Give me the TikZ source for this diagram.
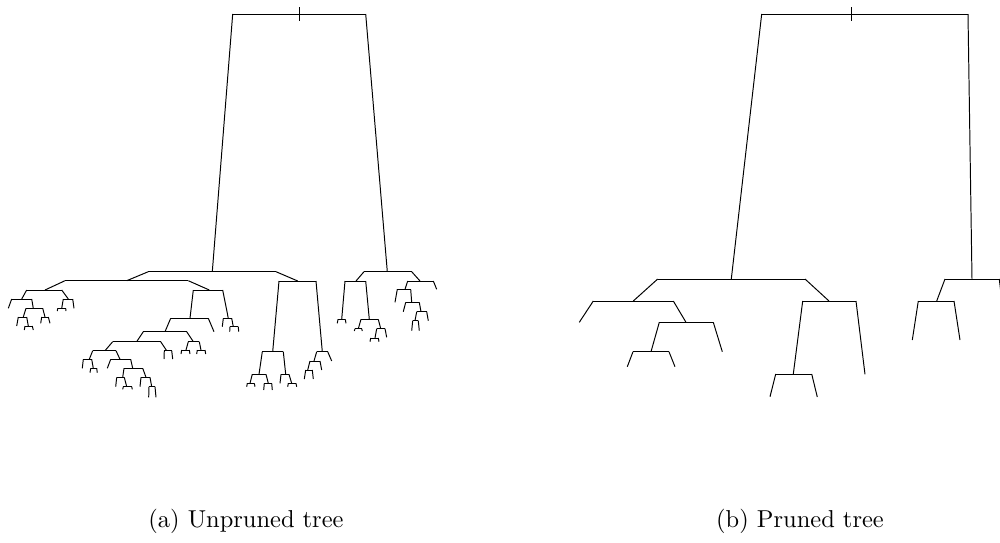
\documentclass[tikz,border=0pt]{standalone}
\tikzset{tr/.style={line width=0.4pt,draw=black}}
\newcommand\TrIn[5]{\coordinate (#1) at (#2,#3);\coordinate (#1-l) at (#4,#3);\coordinate (#1-r) at (#5,#3);\draw[tr] (#1-l) -- (#1-r);}
\newcommand\TrE[3]{\draw[tr] (#1-l) -- (#2);\draw[tr] (#1-r) -- (#3);}
\newcommand\TrCh[8]{\TrIn{#1}{#2}{#3}{#4}{#5}\coordinate (#1-a) at (#7,#6);\coordinate (#1-b) at (#8,#6);\TrE{#1}{#1-a}{#1-b}}
\begin{document}
\begin{tikzpicture}[x=0.409pt,y=-0.409pt]
\useasboundingbox (0,0) rectangle (1000,542);
\clip (0,0) rectangle (1000,542);
% ---------------- (a) unpruned tree ----------------
\TrIn{R}{299.3}{14}{232.7}{365.7}
\coordinate (R-t1) at (299.3,7.3);\coordinate (R-t2) at (299.3,20.7);
\draw[tr] (R-t1) -- (R-t2);
\TrIn{N1}{212.3}{271.7}{148.3}{276}
\TrIn{N2}{387.3}{271.7}{364}{411.7}
\TrE{R}{N1}{N2}
\TrIn{A}{126.7}{280.7}{65}{188.3}
\TrIn{B}{297.7}{281}{279}{316}
\TrE{N1}{A}{B}
\TrIn{A1}{45}{290}{26.7}{61.7}
\TrIn{A2}{209.3}{290}{193.3}{222.7}
\TrE{A}{A1}{A2}
\TrIn{A11}{21.7}{299}{11.7}{31.7}
\TrIn{A12}{68.3}{299}{63.3}{72.7}
\TrE{A1}{A11}{A12}
\coordinate (A111) at (8.3,308.3);
\TrIn{A112}{33.3}{308.3}{26}{42.7}
\TrE{A11}{A111}{A112}
\TrIn{A1121}{23.3}{317}{18.3}{26.7}
\TrCh{A1122}{45}{317}{41.7}{48.3}{323.3}{40.7}{50}
\TrE{A112}{A1121}{A1122}
\coordinate (A11211) at (16.7,326);
\TrCh{A11212}{28.3}{326}{25}{32.3}{330}{24.3}{33.3}
\TrE{A1121}{A11211}{A11212}
\TrCh{A121}{61.7}{308.3}{57.7}{65.7}{311}{57.3}{66}
\coordinate (A122) at (74,308.3);
\TrE{A12}{A121}{A122}
\TrIn{A21}{190}{318.3}{170.7}{208.3}
\TrIn{A22}{228.3}{318.3}{223.3}{231.7}
\TrE{A2}{A21}{A22}
\TrIn{A211}{165}{331.7}{143.3}{186.7}
\coordinate (A212) at (214,331.7);
\TrE{A21}{A211}{A212}
\TrIn{A2111}{136.7}{341.7}{112.7}{160.7}
\TrIn{A2112}{193.3}{341.7}{188.3}{199.3}
\TrE{A211}{A2111}{A2112}
\TrIn{A21111}{105}{350.7}{92.7}{116}
\TrCh{A21112}{166.7}{350.7}{164.3}{171.7}{359}{164}{172.7}
\TrE{A2111}{A21111}{A21112}
\TrIn{A211111}{89.3}{359.3}{83.3}{91.7}
\TrIn{A211112}{120}{359.3}{110.7}{130.7}
\TrE{A21111}{A211111}{A211112}
\coordinate (A2111111) at (82.3,368.3);
\TrCh{A2111112}{93.3}{368.3}{90.7}{96.7}{372.7}{90}{97.3}
\TrE{A211111}{A2111111}{A2111112}
\coordinate (A2111121) at (107.3,368.3);
\TrIn{A2111122}{132.7}{368.3}{124}{142.7}
\TrE{A211112}{A2111121}{A2111122}
\TrIn{C1}{122.7}{377.3}{116.7}{124.3}
\TrIn{C2}{146}{377.3}{141}{150}
\TrE{A2111122}{C1}{C2}
\coordinate (C11) at (115.7,386.7);
\TrCh{C12}{126.7}{386.7}{123.3}{131.7}{389.3}{122.7}{132.3}
\TrE{C1}{C11}{C12}
\coordinate (C21) at (140,386.7);
\TrCh{C22}{151.7}{386.7}{149}{155}{397.3}{148.7}{156}
\TrE{C2}{C21}{C22}
\TrCh{A21121}{186}{350}{181.7}{189.3}{354}{181}{190}
\TrCh{A21122}{201}{350}{197.3}{205}{354}{196.7}{205.7}
\TrE{A2112}{A21121}{A21122}
\coordinate (A221) at (222.3,326.7);
\TrCh{A222}{233.3}{326.7}{230}{238.3}{331.7}{229.7}{238.7}
\TrE{A22}{A221}{A222}
\TrIn{B1}{272.7}{351.7}{262.3}{283.3}
\TrIn{B2}{322.3}{351.7}{316.7}{327.7}
\TrE{B}{B1}{B2}
\TrIn{B11}{259}{374.3}{252.3}{266}
\TrIn{B12}{285.7}{374.3}{281}{289}
\TrE{B1}{B11}{B12}
\TrCh{B111}{250}{383.3}{247.3}{254.3}{386.7}{246.7}{255}
\TrCh{B112}{268.3}{383.3}{264.3}{271.7}{390}{263.7}{272.3}
\TrE{B11}{B111}{B112}
\coordinate (B121) at (280,383.3);
\TrCh{B122}{291.7}{383.3}{288.3}{296}{386.7}{287.7}{296.7}
\TrE{B12}{B121}{B122}
\TrIn{B21}{314}{361}{310}{320}
\coordinate (B22) at (331.7,361);
\TrE{B2}{B21}{B22}
\TrCh{B211}{307.7}{370}{305.7}{312.3}{379}{304.3}{313.3}
\coordinate (B212) at (321.7,370);
\TrE{B21}{B211}{B212}
\TrIn{D1}{356}{281}{345}{365.7}
\TrIn{D2}{420}{281}{407.7}{433.3}
\TrE{N2}{D1}{D2}
\TrCh{D11}{341.7}{319.3}{338}{345.3}{323.3}{337.3}{346}
\TrIn{D12}{369.3}{319.3}{361}{378.3}
\TrE{D1}{D11}{D12}
\TrCh{D121}{358.3}{328.7}{355}{361.7}{331}{354.3}{362.3}
\TrIn{D122}{380.7}{328.7}{376.7}{385}
\TrE{D12}{D121}{D122}
\TrCh{D1221}{375}{338}{370.7}{378.3}{341.7}{370}{379}
\coordinate (D1222) at (386.7,337.3);
\TrE{D122}{D1221}{D1222}
\TrIn{D21}{405}{289.3}{397.3}{410.7}
\coordinate (D22) at (436.7,289.3);
\TrE{D2}{D21}{D22}
\coordinate (D211) at (395,302.3);
\TrIn{D212}{411.7}{302.3}{405.7}{419.3}
\TrE{D21}{D211}{D212}
\coordinate (D2121) at (403.3,311.7);
\TrIn{D2122}{421}{311.7}{416.7}{426.7}
\TrE{D212}{D2121}{D2122}
\TrCh{D21221}{415}{320.7}{412.7}{418.3}{330.7}{411.7}{419.3}
\coordinate (D21222) at (428.3,320.7);
\TrE{D2122}{D21221}{D21222}
% ---------------- (b) pruned tree ----------------
\TrIn{S}{851}{14}{761.7}{968}
\coordinate (S-t1) at (851,7.3);\coordinate (S-t2) at (851,20.7);
\draw[tr] (S-t1) -- (S-t2);
\TrIn{P1}{731.3}{279}{657.7}{805}
\TrIn{P2}{972}{279}{945}{999.3}
\TrE{S}{P1}{P2}
\TrIn{P11}{633.3}{301}{593.3}{673.3}
\TrIn{P12}{829}{301}{802.7}{856}
\TrE{P1}{P11}{P12}
\coordinate (P111) at (579.3,322.3);
\TrIn{P112}{686}{322.3}{659.3}{713.3}
\TrE{P11}{P111}{P112}
\TrIn{P1121}{651}{351.7}{633}{669}
\coordinate (P1122) at (722.3,351.7);
\TrE{P112}{P1121}{P1122}
\coordinate (P11211) at (627.3,366.7);
\coordinate (P11212) at (675,366.7);
\TrE{P1121}{P11211}{P11212}
\TrIn{P121}{793.3}{374}{775.7}{811.7}
\coordinate (P122) at (865,374.3);
\TrE{P12}{P121}{P122}
\coordinate (P1211) at (770,396.7);
\coordinate (P1212) at (817.3,397);
\TrE{P121}{P1211}{P1212}
\TrIn{P21}{936.7}{301}{918.3}{954}
\coordinate (P22) at (1004,320);
\TrE{P2}{P21}{P22}
\coordinate (P211) at (912.3,340);
\coordinate (P212) at (960,340);
\TrE{P21}{P211}{P212}
% ---------------- captions ----------------
\node (capa) at (246,521) {(a) Unpruned tree};
\node (capb) at (800,521) {(b) Pruned tree};
\end{tikzpicture}
\end{document}
